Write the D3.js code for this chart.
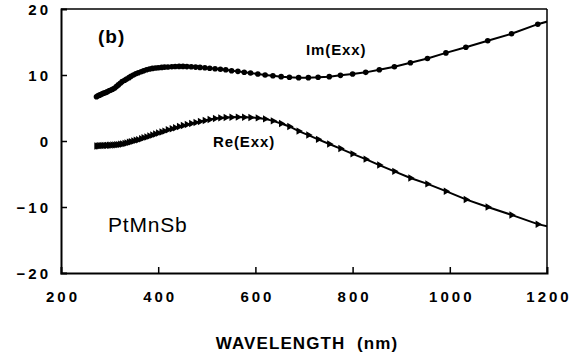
<!DOCTYPE html>
<html>
<head>
<meta charset="utf-8">
<script src="https://cdn.jsdelivr.net/npm/d3@7"></script>
<style>
  html, body { margin: 0; padding: 0; background: #fff; }
  svg { display: block; }
  text { font-family: "Liberation Sans", Arial, sans-serif; fill: #000; }
</style>
</head>
<body>
<svg id="chart" width="588" height="354"></svg>
<script>
// Wavelength grid (nm), ascending
const wavelength = [273,276,279,282,285,288,292,295,299,302,306,310,314,318,322,326,331,335,340,344,349,354,359,365,370,376,382,388,394,400,407,413,420,428,435,443,451,459,468,477,486,496,506,517,528,539,551,564,577,590,605,620,636,653,670,689,709,729,752,775,800,827,855,886,919,954,992,1033,1078,1127,1181,1240];

// Imaginary part of the diagonal dielectric tensor element
const imExx = [6.7,6.85,6.95,7.05,7.15,7.25,7.35,7.45,7.6,7.7,7.85,8.0,8.25,8.5,8.75,9.0,9.2,9.4,9.6,9.8,10.0,10.2,10.35,10.5,10.65,10.8,10.9,11.0,11.05,11.1,11.15,11.2,11.22,11.25,11.28,11.3,11.3,11.27,11.24,11.2,11.15,11.1,11.02,10.95,10.88,10.8,10.65,10.55,10.42,10.3,10.15,10.0,9.88,9.75,9.65,9.6,9.6,9.65,9.75,9.95,10.15,10.4,10.8,11.25,11.85,12.5,13.35,14.2,15.2,16.25,17.7,18.9];

// Real part of the diagonal dielectric tensor element
const reExx = [-0.75,-0.75,-0.72,-0.7,-0.7,-0.68,-0.68,-0.66,-0.65,-0.64,-0.62,-0.6,-0.58,-0.55,-0.5,-0.45,-0.38,-0.3,-0.2,-0.1,0.0,0.1,0.2,0.35,0.5,0.6,0.75,0.9,1.05,1.2,1.35,1.5,1.7,1.85,2.0,2.2,2.35,2.5,2.65,2.8,2.95,3.1,3.25,3.4,3.5,3.55,3.6,3.62,3.6,3.55,3.5,3.35,3.05,2.65,2.2,1.5,0.9,0.25,-0.45,-1.15,-1.95,-2.75,-3.65,-4.6,-5.6,-6.5,-7.6,-8.85,-10.0,-11.2,-12.6,-13.6];

const xTicks = [200, 400, 600, 800, 1000, 1200];
const yTicks = [-20, -10, 0, 10, 20];

const svg = d3.select("#chart");
const plotL = 61, plotR = 547, plotT = 9, plotB = 273;

const x = d3.scaleLinear().domain([200, 1200]).range([plotL, plotR]);
const y = d3.scaleLinear().domain([-20, 20]).range([plotB, plotT]);

svg.append("defs").append("clipPath").attr("id", "plotClip")
  .append("rect").attr("x", plotL).attr("y", plotT)
  .attr("width", plotR - plotL).attr("height", plotB - plotT);

// Frame: heavier left/bottom axes, lighter top/right
svg.append("line").attr("x1", plotL).attr("x2", plotR).attr("y1", plotT).attr("y2", plotT)
  .attr("stroke", "#000").attr("stroke-width", 1.5);
svg.append("line").attr("x1", plotR).attr("x2", plotR).attr("y1", plotT).attr("y2", plotB)
  .attr("stroke", "#000").attr("stroke-width", 1.5);

const tickFont = "'DejaVu Sans', sans-serif";
const tickLS = 3;

// Axes with inward ticks
const yAxis = d3.axisLeft(y).tickValues(yTicks).tickSize(-6).tickPadding(13)
  .tickFormat(d => d < 0 ? "\u2212" + Math.abs(d) : String(d));
const gy = svg.append("g").attr("transform", `translate(${plotL},0)`).call(yAxis);
gy.select(".domain").attr("stroke-width", 2);
gy.selectAll(".tick line").attr("stroke-width", 1.5)
  .filter(d => d === 20 || d === -20).remove();
gy.selectAll(".tick text")
  .attr("font-size", 15).attr("font-weight", "bold").attr("letter-spacing", tickLS)
  .attr("font-family", tickFont)
  .attr("dx", tickLS).attr("dy", "0.36em");

const xAxis = d3.axisBottom(x).tickValues(xTicks).tickSize(-6).tickPadding(18)
  .tickFormat(d3.format("d"));
const gx = svg.append("g").attr("transform", `translate(0,${plotB})`).call(xAxis);
gx.select(".domain").attr("stroke-width", 2);
gx.selectAll(".tick line").attr("stroke-width", 1.5)
  .filter(d => d === 200 || d === 1200).remove();
gx.selectAll(".tick text")
  .attr("font-size", 15).attr("font-weight", "bold").attr("letter-spacing", tickLS)
  .attr("font-family", tickFont)
  .attr("dx", tickLS / 2);

// Curves
const line = d3.line().x((d, i) => x(wavelength[i])).y(d => y(d));
const plot = svg.append("g").attr("clip-path", "url(#plotClip)");

plot.append("path").datum(imExx).attr("d", line)
  .attr("fill", "none").attr("stroke", "#000").attr("stroke-width", 2);
plot.append("path").datum(reExx).attr("d", line)
  .attr("fill", "none").attr("stroke", "#000").attr("stroke-width", 2);

// Markers: circles for Im, triangles for Re
plot.selectAll("circle.im").data(imExx).join("circle").attr("class", "im")
  .attr("cx", (d, i) => x(wavelength[i])).attr("cy", d => y(d))
  .attr("r", 2.8).attr("fill", "#000");

const tri = d3.symbol().type(d3.symbolTriangle).size(24);
plot.selectAll("path.re").data(reExx).join("path").attr("class", "re")
  .attr("d", tri)
  .attr("transform", (d, i) => `translate(${x(wavelength[i])},${y(d)}) rotate(90)`)
  .attr("fill", "#000");

// Annotations
svg.append("text").attr("x", 98).attr("y", 43).attr("font-size", 19)
  .attr("font-weight", "bold").attr("letter-spacing", 1).text("(b)");
svg.append("text").attr("x", 306).attr("y", 55).attr("font-size", 15)
  .attr("font-weight", "bold").attr("letter-spacing", 0.9).text("Im(Exx)");
svg.append("text").attr("x", 213).attr("y", 147).attr("font-size", 15)
  .attr("font-weight", "bold").attr("letter-spacing", 0.9).text("Re(Exx)");
svg.append("text").attr("x", 108).attr("y", 232).attr("font-size", 21)
  .attr("letter-spacing", 0.8).text("PtMnSb");

svg.append("text").attr("x", 307).attr("y", 349).attr("text-anchor", "middle")
  .attr("font-size", 17).attr("font-weight", "bold").attr("letter-spacing", 1.1)
  .style("white-space", "pre")
  .text("WAVELENGTH  (nm)");
</script>
</body>
</html>
